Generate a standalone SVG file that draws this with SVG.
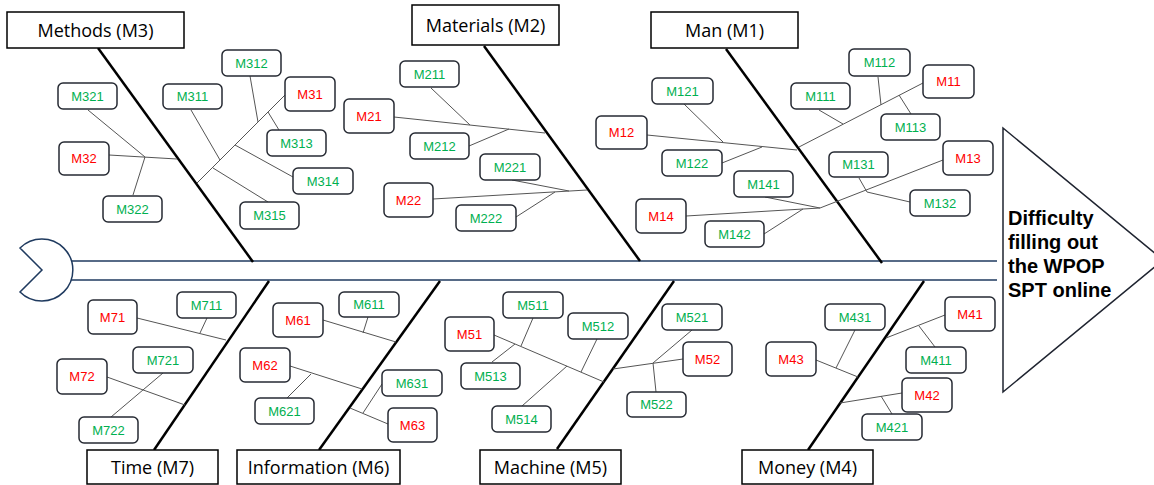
<svg xmlns="http://www.w3.org/2000/svg" width="1154" height="485" viewBox="0 0 1154 485">
<style>
.cat{fill:#fff;stroke:#000;stroke-width:1.5}
.ct{font-family:"Open Sans","Noto Sans",sans-serif;font-size:18px;fill:#000;text-anchor:middle}
.n rect{fill:#fff;stroke:#262a33;stroke-width:1.5}
.n text{font-family:"Liberation Sans",Arial,sans-serif;font-size:13px;text-anchor:middle}
.g text{fill:#00b050}
.r text{fill:#ff0000}
.bone{stroke:#000;stroke-width:2.5;fill:none}
.br{stroke:#555;stroke-width:1;fill:none}
.spine{stroke:#1f3a5f;stroke-width:1.5;fill:none}
.head{font-family:"Liberation Sans",Arial,sans-serif;font-size:20px;font-weight:bold;fill:#000}
</style>
<rect width="1154" height="485" fill="#fff"/>
<g id="spine">
<path class="spine" d="M42 270 L20 248 A31 31 0 1 1 20 292 Z" fill="#fff"/>
<line class="spine" x1="71" y1="261" x2="997" y2="261"/>
<line class="spine" x1="71" y1="280" x2="997" y2="280"/>
</g>
<g id="head">
<polygon points="1003,128 1163,260 1003,392" fill="#fff" stroke="#1f2430" stroke-width="1.5"/>
<text class="head" x="1008" y="225">Difficulty</text>
<text class="head" x="1008" y="249">filling out</text>
<text class="head" x="1008" y="273">the WPOP</text>
<text class="head" x="1008" y="297">SPT online</text>
</g>
<g id="connectors">
<line class="bone" x1="98" y1="48" x2="253" y2="262"/>
<line class="bone" x1="484" y1="46" x2="640" y2="261"/>
<line class="bone" x1="726" y1="49" x2="882" y2="263"/>
<line class="bone" x1="269" y1="281" x2="154" y2="450"/>
<line class="bone" x1="440" y1="281" x2="319" y2="450"/>
<line class="bone" x1="674" y1="281" x2="557" y2="449"/>
<line class="bone" x1="924" y1="281" x2="808" y2="450"/>
<path class="br" d="M109 155L177 159M88 110L145 157M133 195L145 157M197 183L285 95M191 110L220 160M250 76L258 122M268 112L279 130M235 145L293 177M213 168L268 202"/>
<path class="br" d="M394 117L545 133M431 88L470 125M469 146L509 129M433 199L587 190M512 180L569 191M516 217L555 192"/>
<path class="br" d="M647 135L797 150M684 104L723 142M722 163L762 147M799 147L923 83M819 110L843 124M878 77L881 105M899 95L911 114M686 216L820 208M765 197L820 208M764 234L803 209M820 208L943 160M859 178L867 192M867 192L910 202"/>
<path class="br" d="M137 318L226 340M207 318L200 333M107 377L185 405M163 373L111 417"/>
<path class="br" d="M323 320L396 342M368 317L363 333M290 366L362 389M287 398L311 374M350 408L388 424M382 384L363 413"/>
<path class="br" d="M494 335L604 382M533 318L521 346M492 362L515 344M522 406L567 366M597 339L581 372M613 369L683 359M692 330L653 363M653 363L656 392"/>
<path class="br" d="M816 360L858 377M855 330L836 368M945 315L886 338M919 326L935 347M902 393L840 403M881 396L892 414"/>
</g>
<g id="Methods"><rect class="cat" x="7" y="12" width="177" height="36"/><text class="ct" x="95.5" y="36.5">Methods (M3)</text></g>
<g id="Materials"><rect class="cat" x="412" y="5" width="147" height="40"/><text class="ct" x="485.5" y="31.5">Materials (M2)</text></g>
<g id="Man"><rect class="cat" x="651" y="12" width="147" height="36"/><text class="ct" x="724.5" y="36.5">Man (M1)</text></g>
<g id="Time"><rect class="cat" x="87" y="450" width="131" height="34"/><text class="ct" x="152.5" y="473.5">Time (M7)</text></g>
<g id="Information"><rect class="cat" x="237" y="450" width="163" height="34"/><text class="ct" x="318.5" y="473.5">Information (M6)</text></g>
<g id="Machine"><rect class="cat" x="480" y="450" width="141" height="34"/><text class="ct" x="550.5" y="473.5">Machine (M5)</text></g>
<g id="Money"><rect class="cat" x="742" y="450" width="131" height="34"/><text class="ct" x="807.5" y="473.5">Money (M4)</text></g>
<g id="M321" class="n g"><rect x="58" y="83" width="59" height="26" rx="5"/><text x="87.5" y="100.5">M321</text></g>
<g id="M32" class="n r"><rect x="59" y="142" width="50" height="33" rx="5"/><text x="84" y="163">M32</text></g>
<g id="M322" class="n g"><rect x="103" y="196" width="59" height="26" rx="5"/><text x="132.5" y="213.5">M322</text></g>
<g id="M311" class="n g"><rect x="163" y="84" width="59" height="25" rx="5"/><text x="192.5" y="101">M311</text></g>
<g id="M312" class="n g"><rect x="222" y="50" width="59" height="26" rx="5"/><text x="251.5" y="67.5">M312</text></g>
<g id="M31" class="n r"><rect x="285" y="77" width="50" height="34" rx="5"/><text x="310" y="98.5">M31</text></g>
<g id="M313" class="n g"><rect x="267" y="130" width="59" height="26" rx="5"/><text x="296.5" y="147.5">M313</text></g>
<g id="M314" class="n g"><rect x="293" y="168" width="60" height="26" rx="5"/><text x="323" y="185.5">M314</text></g>
<g id="M315" class="n g"><rect x="240" y="202" width="59" height="27" rx="5"/><text x="269.5" y="220">M315</text></g>
<g id="M211" class="n g"><rect x="400" y="61" width="59" height="26" rx="5"/><text x="429.5" y="78.5">M211</text></g>
<g id="M21" class="n r"><rect x="344" y="99" width="50" height="34" rx="5"/><text x="369" y="120.5">M21</text></g>
<g id="M212" class="n g"><rect x="410" y="133" width="59" height="26" rx="5"/><text x="439.5" y="150.5">M212</text></g>
<g id="M221" class="n g"><rect x="480" y="154" width="60" height="26" rx="5"/><text x="510" y="171.5">M221</text></g>
<g id="M22" class="n r"><rect x="384" y="183" width="49" height="34" rx="5"/><text x="408.5" y="204.5">M22</text></g>
<g id="M222" class="n g"><rect x="456" y="205" width="60" height="26" rx="5"/><text x="486" y="222.5">M222</text></g>
<g id="M121" class="n g"><rect x="652" y="78" width="61" height="26" rx="5"/><text x="682.5" y="95.5">M121</text></g>
<g id="M12" class="n r"><rect x="596" y="116" width="51" height="33" rx="5"/><text x="621.5" y="137">M12</text></g>
<g id="M122" class="n g"><rect x="662" y="150" width="60" height="26" rx="5"/><text x="692" y="167.5">M122</text></g>
<g id="M141" class="n g"><rect x="734" y="171" width="59" height="26" rx="5"/><text x="763.5" y="188.5">M141</text></g>
<g id="M14" class="n r"><rect x="636" y="199" width="50" height="34" rx="5"/><text x="661" y="220.5">M14</text></g>
<g id="M142" class="n g"><rect x="705" y="221" width="59" height="26" rx="5"/><text x="734.5" y="238.5">M142</text></g>
<g id="M111" class="n g"><rect x="791" y="83" width="59" height="26" rx="5"/><text x="820.5" y="100.5">M111</text></g>
<g id="M112" class="n g"><rect x="849" y="49" width="61" height="27" rx="5"/><text x="879.5" y="67">M112</text></g>
<g id="M11" class="n r"><rect x="923" y="65" width="51" height="33" rx="5"/><text x="948.5" y="86">M11</text></g>
<g id="M113" class="n g"><rect x="881" y="114" width="59" height="26" rx="5"/><text x="910.5" y="131.5">M113</text></g>
<g id="M131" class="n g"><rect x="829" y="152" width="59" height="25" rx="5"/><text x="858.5" y="169">M131</text></g>
<g id="M13" class="n r"><rect x="943" y="141" width="50" height="34" rx="5"/><text x="968" y="162.5">M13</text></g>
<g id="M132" class="n g"><rect x="910" y="190" width="60" height="26" rx="5"/><text x="940" y="207.5">M132</text></g>
<g id="M71" class="n r"><rect x="88" y="300" width="49" height="34" rx="5"/><text x="112.5" y="321.5">M71</text></g>
<g id="M711" class="n g"><rect x="177" y="292" width="59" height="26" rx="5"/><text x="206.5" y="309.5">M711</text></g>
<g id="M721" class="n g"><rect x="133" y="347" width="60" height="26" rx="5"/><text x="163" y="364.5">M721</text></g>
<g id="M72" class="n r"><rect x="57" y="359" width="50" height="35" rx="5"/><text x="82" y="381">M72</text></g>
<g id="M722" class="n g"><rect x="79" y="417" width="59" height="26" rx="5"/><text x="108.5" y="434.5">M722</text></g>
<g id="M61" class="n r"><rect x="273" y="303" width="50" height="34" rx="5"/><text x="298" y="324.5">M61</text></g>
<g id="M611" class="n g"><rect x="339" y="292" width="60" height="25" rx="5"/><text x="369" y="309">M611</text></g>
<g id="M62" class="n r"><rect x="240" y="348" width="50" height="34" rx="5"/><text x="265" y="369.5">M62</text></g>
<g id="M621" class="n g"><rect x="255" y="398" width="59" height="26" rx="5"/><text x="284.5" y="415.5">M621</text></g>
<g id="M631" class="n g"><rect x="382" y="370" width="60" height="26" rx="5"/><text x="412" y="387.5">M631</text></g>
<g id="M63" class="n r"><rect x="388" y="408" width="49" height="34" rx="5"/><text x="412.5" y="429.5">M63</text></g>
<g id="M51" class="n r"><rect x="445" y="317" width="49" height="34" rx="5"/><text x="469.5" y="338.5">M51</text></g>
<g id="M511" class="n g"><rect x="503" y="292" width="60" height="26" rx="5"/><text x="533" y="309.5">M511</text></g>
<g id="M513" class="n g"><rect x="461" y="363" width="59" height="26" rx="5"/><text x="490.5" y="380.5">M513</text></g>
<g id="M514" class="n g"><rect x="492" y="406" width="59" height="26" rx="5"/><text x="521.5" y="423.5">M514</text></g>
<g id="M512" class="n g"><rect x="568" y="313" width="60" height="26" rx="5"/><text x="598" y="330.5">M512</text></g>
<g id="M521" class="n g"><rect x="662" y="304" width="60" height="26" rx="5"/><text x="692" y="321.5">M521</text></g>
<g id="M52" class="n r"><rect x="683" y="342" width="49" height="34" rx="5"/><text x="707.5" y="363.5">M52</text></g>
<g id="M522" class="n g"><rect x="627" y="392" width="59" height="25" rx="5"/><text x="656.5" y="409">M522</text></g>
<g id="M43" class="n r"><rect x="766" y="342" width="50" height="34" rx="5"/><text x="791" y="363.5">M43</text></g>
<g id="M431" class="n g"><rect x="825" y="304" width="60" height="26" rx="5"/><text x="855" y="321.5">M431</text></g>
<g id="M41" class="n r"><rect x="945" y="297" width="50" height="34" rx="5"/><text x="970" y="318.5">M41</text></g>
<g id="M411" class="n g"><rect x="906" y="347" width="60" height="26" rx="5"/><text x="936" y="364.5">M411</text></g>
<g id="M42" class="n r"><rect x="902" y="378" width="50" height="34" rx="5"/><text x="927" y="399.5">M42</text></g>
<g id="M421" class="n g"><rect x="862" y="414" width="60" height="26" rx="5"/><text x="892" y="431.5">M421</text></g>
</svg>
